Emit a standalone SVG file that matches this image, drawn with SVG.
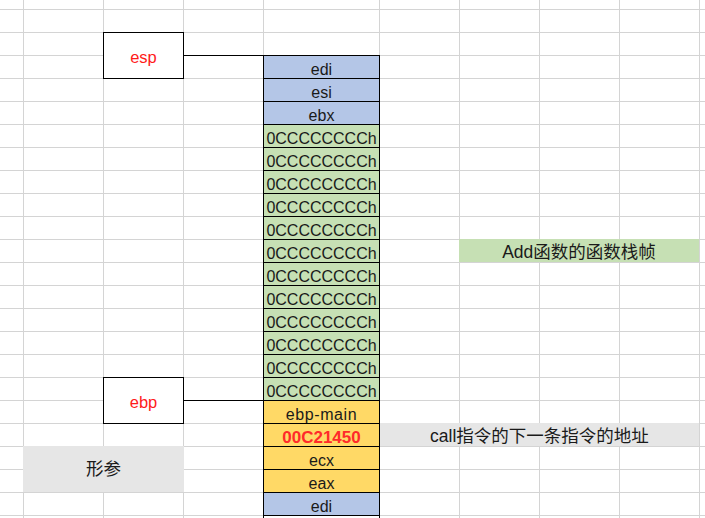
<svg xmlns="http://www.w3.org/2000/svg" width="705" height="518" viewBox="0 0 705 518">
<style>
.grid line{stroke:#d4d4d4;stroke-width:1}
.cell{stroke:#000;stroke-width:1}
.blue{fill:#b4c6e7}
.green{fill:#c6e0b4}
.yellow{fill:#ffd966}
.white{fill:#fff}
.t{font-family:"Liberation Sans","Noto Sans CJK SC",sans-serif;font-size:16px;fill:#1a1a1a;text-anchor:middle}
.cjk{font-family:"Liberation Sans","Noto Sans CJK SC",sans-serif;font-size:17.5px;fill:#1a1a1a;text-anchor:middle}
.red{fill:#ff1a1a;font-size:16.5px}
.bold{font-weight:bold;font-size:17px;fill:#ff2a2a}
.conn{stroke:#000;stroke-width:1;fill:none}
</style>
<rect width="705" height="518" fill="#fff"/>
<g class="grid">
<line x1="23.5" y1="0" x2="23.5" y2="518"/>
<line x1="103.5" y1="0" x2="103.5" y2="518"/>
<line x1="183.5" y1="0" x2="183.5" y2="518"/>
<line x1="263.5" y1="0" x2="263.5" y2="518"/>
<line x1="379.5" y1="0" x2="379.5" y2="518"/>
<line x1="459.5" y1="0" x2="459.5" y2="518"/>
<line x1="539.5" y1="0" x2="539.5" y2="518"/>
<line x1="619.5" y1="0" x2="619.5" y2="518"/>
<line x1="699.5" y1="0" x2="699.5" y2="518"/>
<line x1="0" y1="9.5" x2="705" y2="9.5"/>
<line x1="0" y1="32.5" x2="705" y2="32.5"/>
<line x1="0" y1="55.5" x2="705" y2="55.5"/>
<line x1="0" y1="78.5" x2="705" y2="78.5"/>
<line x1="0" y1="101.5" x2="705" y2="101.5"/>
<line x1="0" y1="124.5" x2="705" y2="124.5"/>
<line x1="0" y1="147.5" x2="705" y2="147.5"/>
<line x1="0" y1="170.5" x2="705" y2="170.5"/>
<line x1="0" y1="193.5" x2="705" y2="193.5"/>
<line x1="0" y1="216.5" x2="705" y2="216.5"/>
<line x1="0" y1="239.5" x2="705" y2="239.5"/>
<line x1="0" y1="262.5" x2="705" y2="262.5"/>
<line x1="0" y1="285.5" x2="705" y2="285.5"/>
<line x1="0" y1="308.5" x2="705" y2="308.5"/>
<line x1="0" y1="331.5" x2="705" y2="331.5"/>
<line x1="0" y1="354.5" x2="705" y2="354.5"/>
<line x1="0" y1="377.5" x2="705" y2="377.5"/>
<line x1="0" y1="400.5" x2="705" y2="400.5"/>
<line x1="0" y1="423.5" x2="705" y2="423.5"/>
<line x1="0" y1="446.5" x2="705" y2="446.5"/>
<line x1="0" y1="469.5" x2="705" y2="469.5"/>
<line x1="0" y1="492.5" x2="705" y2="492.5"/>
<line x1="0" y1="515.5" x2="705" y2="515.5"/>
</g>

<g id="label-add-frame">
<rect x="459" y="239" width="240" height="23" fill="#c6e0b4"/>
<text class="cjk" x="579" y="258">Add函数的函数栈帧</text>
</g>
<g id="label-call-addr">
<rect x="380" y="423" width="319" height="23" fill="#e6e6e6"/>
<text class="cjk" x="539.5" y="442">call指令的下一条指令的地址</text>
</g>
<g id="label-params">
<rect x="23" y="446" width="161" height="46" fill="#e6e6e6"/>
<text class="cjk" x="103.5" y="475">形参</text>
</g>

<g id="stack">
<rect class="cell blue" x="263.5" y="55.5" width="116" height="23"/>
<text class="t" x="321.5" y="75">edi</text>
<rect class="cell blue" x="263.5" y="78.5" width="116" height="23"/>
<text class="t" x="321.5" y="98">esi</text>
<rect class="cell blue" x="263.5" y="101.5" width="116" height="23"/>
<text class="t" x="321.5" y="121">ebx</text>
<rect class="cell green" x="263.5" y="124.5" width="116" height="23"/>
<text class="t" x="321.5" y="144">0CCCCCCCCh</text>
<rect class="cell green" x="263.5" y="147.5" width="116" height="23"/>
<text class="t" x="321.5" y="167">0CCCCCCCCh</text>
<rect class="cell green" x="263.5" y="170.5" width="116" height="23"/>
<text class="t" x="321.5" y="190">0CCCCCCCCh</text>
<rect class="cell green" x="263.5" y="193.5" width="116" height="23"/>
<text class="t" x="321.5" y="213">0CCCCCCCCh</text>
<rect class="cell green" x="263.5" y="216.5" width="116" height="23"/>
<text class="t" x="321.5" y="236">0CCCCCCCCh</text>
<rect class="cell green" x="263.5" y="239.5" width="116" height="23"/>
<text class="t" x="321.5" y="259">0CCCCCCCCh</text>
<rect class="cell green" x="263.5" y="262.5" width="116" height="23"/>
<text class="t" x="321.5" y="282">0CCCCCCCCh</text>
<rect class="cell green" x="263.5" y="285.5" width="116" height="23"/>
<text class="t" x="321.5" y="305">0CCCCCCCCh</text>
<rect class="cell green" x="263.5" y="308.5" width="116" height="23"/>
<text class="t" x="321.5" y="328">0CCCCCCCCh</text>
<rect class="cell green" x="263.5" y="331.5" width="116" height="23"/>
<text class="t" x="321.5" y="351">0CCCCCCCCh</text>
<rect class="cell green" x="263.5" y="354.5" width="116" height="23"/>
<text class="t" x="321.5" y="374">0CCCCCCCCh</text>
<rect class="cell green" x="263.5" y="377.5" width="116" height="23"/>
<text class="t" x="321.5" y="397">0CCCCCCCCh</text>
<rect class="cell yellow" x="263.5" y="400.5" width="116" height="23"/>
<text class="t" x="321.5" y="420" letter-spacing="0.6">ebp-main</text>
<rect class="cell yellow" x="263.5" y="423.5" width="116" height="23"/>
<text class="t bold" x="321.5" y="443">00C21450</text>
<rect class="cell yellow" x="263.5" y="446.5" width="116" height="23"/>
<text class="t" x="321.5" y="466">ecx</text>
<rect class="cell yellow" x="263.5" y="469.5" width="116" height="23"/>
<text class="t" x="321.5" y="489">eax</text>
<rect class="cell blue" x="263.5" y="492.5" width="116" height="23"/>
<text class="t" x="321.5" y="512">edi</text>
<rect class="cell white" x="263.5" y="515.5" width="116" height="23"/>
</g>

<g id="esp">
<rect class="cell white" x="103.5" y="32.5" width="80" height="46"/>
<text class="t red" x="143.5" y="63">esp</text>
</g>
<g id="ebp">
<rect class="cell white" x="103.5" y="377.5" width="80" height="46"/>
<text class="t red" x="143.5" y="408">ebp</text>
</g>

<g id="connectors">
<line class="conn" x1="183.5" y1="55.5" x2="263.5" y2="55.5"/>
<line class="conn" x1="183.5" y1="400.5" x2="263.5" y2="400.5"/>
</g>
</svg>
